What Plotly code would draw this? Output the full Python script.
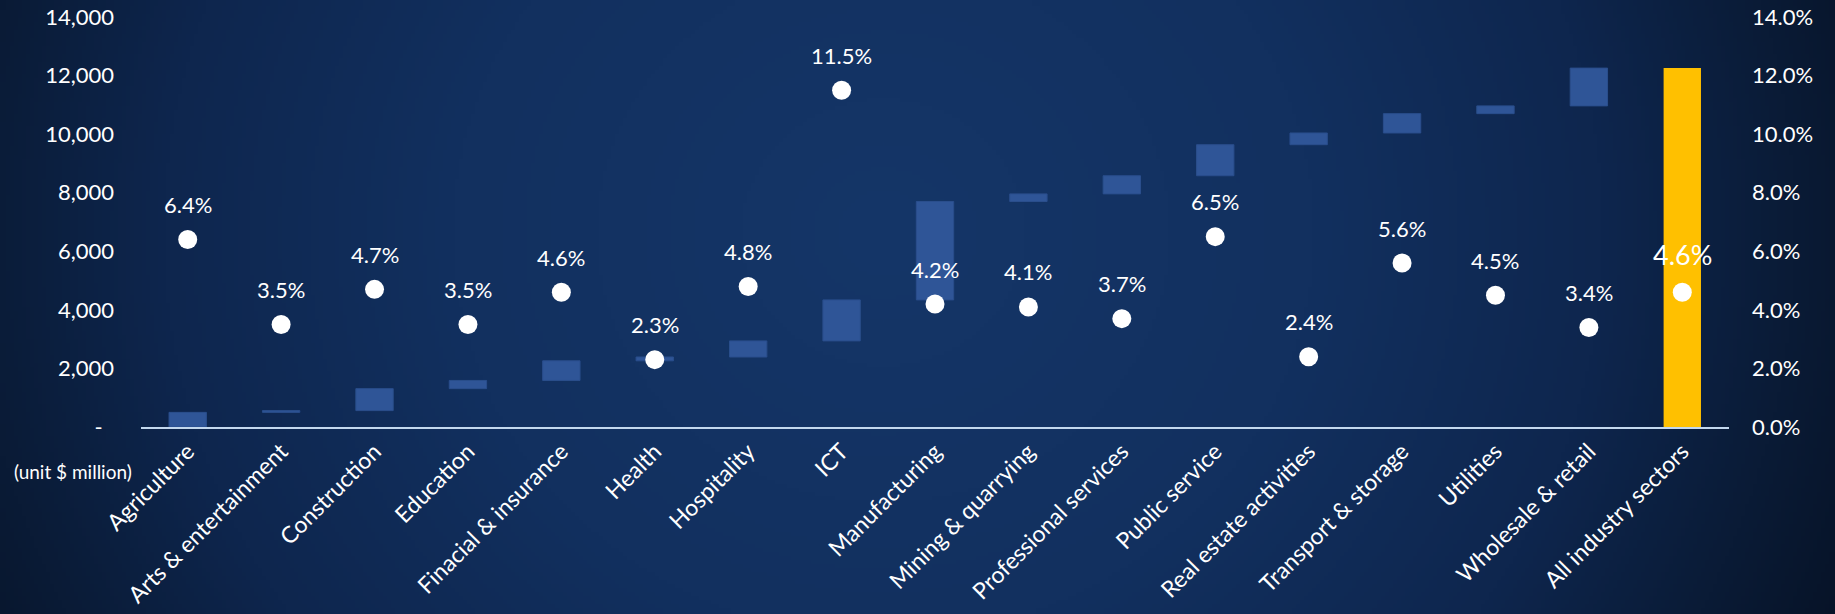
import base64, struct, zlib
import numpy as np
import plotly.graph_objects as go

# ---------------- data ----------------
categories = ["Agriculture", "Arts & entertainment", "Construction", "Education",
              "Finacial & insurance", "Health", "Hospitality", "ICT", "Manufacturing",
              "Mining & quarrying", "Professional services", "Public service",
              "Real estate activities", "Transport & storage", "Utilities",
              "Wholesale & retail", "All industry sectors"]
increments = [500, 60, 750, 280, 670, 130, 550, 1400, 3360, 260, 620, 1060, 400, 660, 265, 1290]
growth_pct = [6.4, 3.5, 4.7, 3.5, 4.6, 2.3, 4.8, 11.5, 4.2, 4.1, 3.7, 6.5, 2.4, 5.6, 4.5, 3.4, 4.6]
y_tickvals = [0, 2000, 4000, 6000, 8000, 10000, 12000, 14000]
y_ticktext = ["-\u00a0\u00a0", "2,000", "4,000", "6,000", "8,000", "10,000", "12,000", "14,000"]
y2_tickvals = [0, 0.02, 0.04, 0.06, 0.08, 0.10, 0.12, 0.14]

# ---------------- background gradient image ----------------
W, H = 1835, 614
def png_data_uri(arr):
    h, w, _ = arr.shape
    raw = b"".join(b"\x00" + arr[r].tobytes() for r in range(h))
    def chunk(t, d):
        return struct.pack(">I", len(d)) + t + d + struct.pack(">I", zlib.crc32(t + d) & 0xffffffff)
    png = (b"\x89PNG\r\n\x1a\n" + chunk(b"IHDR", struct.pack(">IIBBBBB", w, h, 8, 2, 0, 0, 0))
           + chunk(b"IDAT", zlib.compress(raw, 9)) + chunk(b"IEND", b""))
    return "data:image/png;base64," + base64.b64encode(png).decode()

sc = 4
gw, gh = W // sc, H // sc
xx, yy = np.meshgrid(np.arange(gw) * sc, np.arange(gh) * sc)
r = np.sqrt(((xx - 880) / 960.0) ** 2 + ((yy - 230) / 900.0) ** 2)
stops = [0.0, 0.45, 0.75, 0.95, 1.15, 1.4]
cols = np.array([[21, 54, 104], [18, 48, 95], [14, 38, 78], [10, 27, 54], [5, 15, 32], [3, 10, 22]])
img = np.stack([np.interp(r, stops, cols[:, c]) for c in range(3)], axis=-1).astype(np.uint8)
bg_uri = png_data_uri(np.ascontiguousarray(img))

# ---------------- figure ----------------
L, R, T, B = 141, 106, 17, 187
pw, ph = W - L - R, H - T - B
FONT = "Lato"

fig = go.Figure()
fig.add_trace(go.Waterfall(
    x=categories,
    y=increments + [0],
    measure=["relative"] * len(increments) + ["total"],
    width=0.4,
    increasing=dict(marker=dict(color="#2F5597", line=dict(color="#2A4E8C", width=1))),
    decreasing=dict(marker=dict(color="#2F5597")),
    totals=dict(marker=dict(color="#FFC000", line=dict(color="#FFC000", width=0))),
    connector=dict(visible=False),
    textinfo="none",
    showlegend=False,
))
fig.add_trace(go.Scatter(
    x=categories,
    y=[p / 100 for p in growth_pct],
    yaxis="y2",
    mode="markers",
    marker=dict(color="white", size=19),
    showlegend=False,
))

annotations = []
for i, (c, p) in enumerate(zip(categories, growth_pct)):
    last = i == len(categories) - 1
    annotations.append(dict(
        x=c, y=p / 100, xref="x", yref="y2", text=f"{p:.1f}%", showarrow=False,
        yshift=38 if last else 35,
        font=dict(family=FONT, size=27 if last else 22, color="white"),
    ))
annotations.append(dict(
    x=(12 - L) / pw, y=(427 - 471) / ph, xref="paper", yref="paper",
    xanchor="left", yanchor="middle", text="(unit $ million)", showarrow=False,
    font=dict(family=FONT, size=19, color="white"),
))

fig.update_layout(
    width=W, height=H,
    margin=dict(l=L, r=R, t=T, b=B, autoexpand=False),
    paper_bgcolor="#0b1a33",
    plot_bgcolor="rgba(0,0,0,0)",
    font=dict(family=FONT, color="white"),
    annotations=annotations,
    images=[dict(source=bg_uri, xref="paper", yref="paper",
                 x=-L / pw, y=1 + T / ph, sizex=W / pw, sizey=H / ph,
                 xanchor="left", yanchor="top", sizing="stretch", layer="below")],
    xaxis=dict(showgrid=False, zeroline=False, showline=True, linecolor="#C3D8EE", linewidth=2,
               tickangle=-45, tickfont=dict(family=FONT, size=23, color="white"),
               ticks="", ticklabelstandoff=0, automargin=False, range=[-0.5, 16.5]),
    yaxis=dict(range=[0, 14000], tickvals=y_tickvals, ticktext=y_ticktext, showgrid=False,
               zeroline=False, showline=False, ticks="", ticklabelstandoff=26,
               tickfont=dict(family=FONT, size=22, color="white"), automargin=False),
    yaxis2=dict(range=[0, 0.14], tickvals=y2_tickvals, tickformat=".1%", overlaying="y",
                side="right", showgrid=False, zeroline=False, showline=False, ticks="",
                ticklabelstandoff=22, tickfont=dict(family=FONT, size=22, color="white"),
                automargin=False),
)

fig.write_html(
    "out.html",
    config={"displayModeBar": False},
    post_script="document.body.style.margin='0';document.body.style.padding='0';"
                "document.body.style.background='#050e1c';"
                "document.documentElement.style.overflow='hidden';",
)
